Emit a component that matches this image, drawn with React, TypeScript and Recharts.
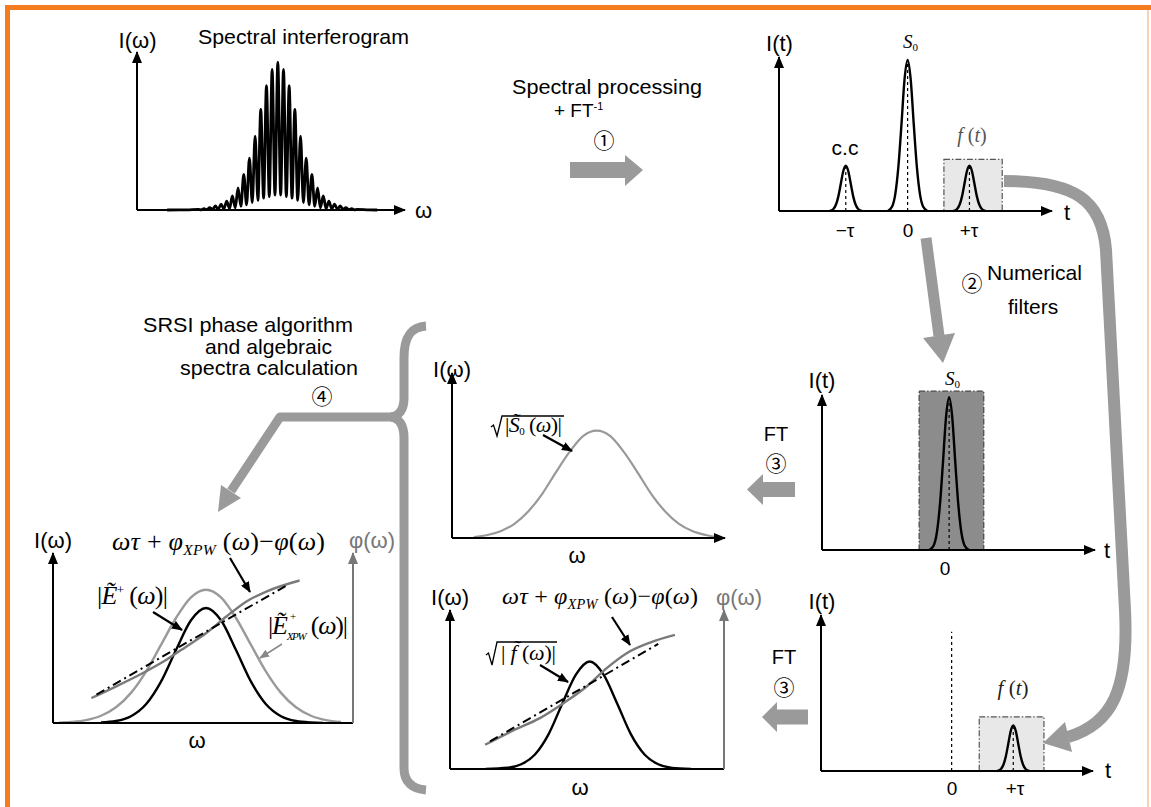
import React from 'react';
import { LineChart, Line, XAxis, YAxis, ReferenceLine, ReferenceArea } from 'recharts';

// ---------- values ----------
// (a) spectral interferogram: fringe index (peaks on integers, troughs on halves) vs intensity
const fringeW = [
  -19.5, -16, -14, -13.5, -13, -12.5, -12, -11.5, -11, -10.5, -10, -9.5, -9, -8.5, -8, -7.5, -7, -6.5, -6,
  -5.5, -5, -4.5, -4, -3.5, -3, -2.5, -2, -1.5, -1, -0.5, 0, 0.5, 1, 1.5, 2, 2.5, 3, 3.5, 4, 4.5, 5, 5.5,
  6, 6.5, 7, 7.5, 8, 8.5, 9, 9.5, 10, 10.5, 11, 11.5, 12, 12.5, 13, 13.5, 14, 16, 17.5,
];
const fringeI = [
  0, 0.1, 0.4, 0.15, 0.9, 0.2, 1.6, 0.3, 2.7, 0.5, 4, 0.7, 6, 1, 9.5, 1.5, 15, 2.5, 24,
  3.5, 35, 5, 50, 6.5, 68, 8, 84, 9, 95, 10, 100, 10, 95, 9, 84, 8, 68, 6.5, 50, 5, 35, 3.5,
  24, 2.5, 15, 1.5, 9.5, 1, 6, 0.7, 4, 0.5, 2.7, 0.3, 1.6, 0.2, 0.9, 0.15, 0.4, 0.1, 0,
];

// (b) temporal peaks after FT^-1 (t in units of tau)
const ccT = [-1.26, -1.2, -1.16, -1.12, -1.08, -1.04, -1, -0.96, -0.92, -0.88, -0.84, -0.8, -0.74];
const ccI = [0, 1.3, 4.1, 9.7, 18.2, 26.5, 30, 26.5, 18.2, 9.7, 4.1, 1.3, 0];
const s0T = [-0.32, -0.25, -0.2, -0.15, -0.1, -0.05, 0, 0.05, 0.1, 0.15, 0.2, 0.25, 0.32];
const s0I = [0, 3, 11, 29, 57, 87, 100, 87, 57, 29, 11, 3, 0];
const fT = [0.74, 0.8, 0.84, 0.88, 0.92, 0.96, 1, 1.04, 1.08, 1.12, 1.16, 1.2, 1.26];
const fI = [0, 1.3, 4.1, 9.7, 18.2, 26.5, 30, 26.5, 18.2, 9.7, 4.1, 1.3, 0];

// (c) sqrt|S0(w)|
const s0SpecW = [8, 13, 18, 23, 28, 33, 38, 43, 48, 53, 58, 63, 68, 73, 78, 83, 88, 93, 96];
const s0SpecI = [0.9, 2.8, 6.6, 13.5, 25, 41, 61, 80, 95, 100, 95, 80, 61, 41, 25, 13.5, 6.6, 2.8, 1.2];

// (d) sqrt|f(w)| and phases
const fSpecW = [13, 21, 26, 31, 36, 41, 46, 51, 56, 61, 66, 71, 76, 81, 88];
const fSpecI = [0.1, 1.1, 4.4, 13.5, 32.5, 61, 88, 100, 88, 61, 32.5, 13.5, 4.4, 1.1, 0.1];
const fPhaseW = [12.8, 23.1, 32.8, 41.4, 49.9, 57.2, 64.5, 73, 82.1];
const fPhaseV = [22.6, 35.9, 47.4, 61.3, 76.8, 93.9, 107.8, 117.7, 124.8];
const fLinW = [14.6, 45.3, 76];
const fLinV = [25.7, 71, 116.4];

// (e) final spectra |E+(w)|, |E+_XPW(w)| and phases
const gBlackW = [16, 21, 26, 31, 36, 41, 46, 51, 56, 61, 66, 71, 76, 81, 86, 90];
const gBlackI = [0.4, 1.7, 5.9, 16.3, 36, 63.5, 89.3, 100, 89.3, 63.5, 36, 16.3, 5.9, 1.7, 0.4, 0.1];
const gGreyW = [2, 6, 11, 16, 21, 26, 31, 36, 41, 46, 51, 56, 61, 66, 71, 76, 81, 86, 91, 96];
const gGreyI = [0.3, 0.9, 2.5, 6.3, 13.7, 26.2, 44.7, 67.9, 91.3, 109.2, 115.9, 109.2, 91.3, 67.9, 44.7, 26.2, 13.7, 6.3, 2.5, 0.9];
const gPhaseW = [12.8, 21.1, 30, 37.8, 44.5, 51.1, 57.8, 64.5, 71.1, 82.2];
const gPhaseV = [21.7, 31.9, 43.5, 55, 66.6, 78.2, 92.6, 105.7, 114.3, 123.9];
const gLinW = [14.5, 46, 77.8];
const gLinV = [24.6, 72, 119.4];

const zip = (xs: number[], ys: number[]) => xs.map((x, i) => ({ x, y: ys[i] }));

const SANS = '"Liberation Sans", Arial, sans-serif';
const SERIF = '"Liberation Serif", "Times New Roman", serif';
const CIRC = '"Noto Sans CJK JP", "Noto Sans CJK SC", "DejaVu Sans", sans-serif';
const ARROW_GREY = '#9a9a9a';
const PHASE_GREY = '#7a7a7a';
const AXIS_GREY = '#777';

interface Box { left: number; top: number; right: number; bottom: number }

const PAD = 24;

interface PanelProps {
  box: Box;
  xDomain: [number, number];
  yDomain: [number, number];
  rightAxis?: boolean;
  children?: React.ReactNode;
}

// one small plot; plot area is exactly `box` in page pixels
const Panel: React.FC<PanelProps> = ({ box, xDomain, yDomain, rightAxis = false, children }) => {
  const w = box.right - box.left + 2 * PAD;
  const h = box.bottom - box.top + 2 * PAD;
  return (
    <div style={{ position: 'absolute', left: box.left - PAD, top: box.top - PAD, width: w, height: h }}>
      <LineChart
        width={w}
        height={h}
        margin={{ top: PAD, bottom: PAD - 1, left: PAD - 1, right: rightAxis ? PAD - 1 : PAD }}
      >
        <XAxis
          type="number"
          dataKey="x"
          domain={xDomain}
          height={1}
          tick={false}
          tickLine={false}
          axisLine={{ stroke: '#000', strokeWidth: 2, markerEnd: rightAxis ? undefined : 'url(#axHead)' }}
        />
        <YAxis
          type="number"
          domain={yDomain}
          width={1}
          tick={false}
          tickLine={false}
          axisLine={{ stroke: '#000', strokeWidth: 2, markerStart: 'url(#axHead)' }}
        />
        {rightAxis && (
          <YAxis
            yAxisId="r"
            orientation="right"
            type="number"
            domain={yDomain}
            width={1}
            tick={false}
            tickLine={false}
            axisLine={{ stroke: AXIS_GREY, strokeWidth: 2, markerStart: 'url(#axHeadGrey)' }}
          />
        )}
        {children}
      </LineChart>
    </div>
  );
};

const dashV = (t: number, top: number) => (
  <ReferenceLine
    segment={[{ x: t, y: 0 }, { x: t, y: top }]}
    stroke="#000"
    strokeWidth={1.2}
    strokeDasharray="3 3"
    ifOverflow="visible"
  />
);

const Sans: React.FC<{ x: number; y: number; size?: number; anchor?: 'start' | 'middle' | 'end'; fill?: string; len?: number; children: React.ReactNode }> = ({ x, y, size = 21, anchor = 'start', fill = '#000', len, children }) => (
  <text x={x} y={y} fontFamily={SANS} fontSize={size} textAnchor={anchor} fill={fill} textLength={len} lengthAdjust={len ? 'spacingAndGlyphs' : undefined}>
    {children}
  </text>
);

const Circ: React.FC<{ x: number; y: number; children: React.ReactNode }> = ({ x, y, children }) => (
  <text x={x} y={y} fontFamily={CIRC} fontSize={21} textAnchor="middle" fill="#000">{children}</text>
);

// omega*tau + phi_XPW(omega) - phi(omega)
const PhaseLabel: React.FC<{ x: number; y: number; size: number; len: number }> = ({ x, y, size, len }) => (
  <text x={x} y={y} fontFamily={SERIF} fontSize={size} fill="#000" textLength={len} lengthAdjust="spacing">
    <tspan fontStyle="italic">ωτ</tspan>
    <tspan>{' + '}</tspan>
    <tspan fontStyle="italic">φ</tspan>
    <tspan fontStyle="italic" fontSize={size * 0.6} dy={size * 0.2}>XPW</tspan>
    <tspan dy={-size * 0.2}>{' ('}</tspan>
    <tspan fontStyle="italic">ω</tspan>
    <tspan>{')−'}</tspan>
    <tspan fontStyle="italic">φ</tspan>
    <tspan>(</tspan>
    <tspan fontStyle="italic">ω</tspan>
    <tspan>)</tspan>
  </text>
);

const Overlay: React.FC = () => (
  <svg width={1151} height={807} style={{ position: 'absolute', left: 0, top: 0, pointerEvents: 'none' }}>
    <defs>
      <marker id="axHead" markerUnits="userSpaceOnUse" markerWidth={12} markerHeight={10} viewBox="0 0 12 10" refX={11} refY={5} orient="auto-start-reverse">
        <path d="M0,0 L12,5 L0,10 z" fill="#000" />
      </marker>
      <marker id="axHeadGrey" markerUnits="userSpaceOnUse" markerWidth={12} markerHeight={10} viewBox="0 0 12 10" refX={11} refY={5} orient="auto-start-reverse">
        <path d="M0,0 L12,5 L0,10 z" fill={AXIS_GREY} />
      </marker>
      <marker id="annHead" markerUnits="userSpaceOnUse" markerWidth={11} markerHeight={9} viewBox="0 0 11 9" refX={10} refY={4.5} orient="auto">
        <path d="M0,0 L11,4.5 L0,9 z" fill="#000" />
      </marker>
      <marker id="annHeadGrey" markerUnits="userSpaceOnUse" markerWidth={10} markerHeight={8} viewBox="0 0 10 8" refX={9} refY={4} orient="auto">
        <path d="M0,0 L10,4 L0,8 z" fill="#888" />
      </marker>
    </defs>

    {/* frame */}
    <line x1={5} y1={7.5} x2={1151} y2={7.5} stroke="#f47b20" strokeWidth={5} />
    <line x1={7.5} y1={5} x2={7.5} y2={807} stroke="#f47b20" strokeWidth={5} />
    <line x1={1148} y1={10} x2={1148} y2={807} stroke="#f9d2b4" strokeWidth={2} />

    {/* step 1 arrow */}
    <polygon points="570,162 625,162 625,155 643,170 625,186 625,178 570,178" fill={ARROW_GREY} />
    {/* step 2 arrow */}
    <line x1={926} y1={238} x2={939} y2={336} stroke={ARROW_GREY} strokeWidth={11} />
    <polygon points="943,363 955,333 923,338" fill={ARROW_GREY} />
    {/* curved arrow f(t) -> filtered f(t) */}
    <path d="M 1004,181 C 1075,181 1102,200 1106,250 L 1125,610 C 1129,690 1112,724 1068,737" fill="none" stroke={ARROW_GREY} strokeWidth={12} />
    <polygon points="1043,743 1065,722 1072,752" fill={ARROW_GREY} />
    {/* FT 3 arrows */}
    <polygon points="795,482 763,482 763,474 747,489.5 763,505 763,497 795,497" fill={ARROW_GREY} />
    <polygon points="808,709.5 777,709.5 777,702 762,717 777,732 777,724.5 808,724.5" fill={ARROW_GREY} />
    {/* brace + step 4 arrow */}
    <path d="M 426,326 C 410,327 404,338 404,358 L 404,398 C 404,410 399,416 391,417" fill="none" stroke={ARROW_GREY} strokeWidth={9} />
    <path d="M 391,417 C 399,418 404,425 404,438 L 404,768 C 404,782 412,789 426,790" fill="none" stroke={ARROW_GREY} strokeWidth={9} />
    <path d="M 395,417 L 280,417 L 231,491" fill="none" stroke={ARROW_GREY} strokeWidth={9} strokeLinejoin="round" />
    <polygon points="218,512 241,498 221,485" fill={ARROW_GREY} />

    {/* annotation arrows */}
    <line x1={153} y1={612} x2={182} y2={630} stroke="#000" strokeWidth={2.2} markerEnd="url(#annHead)" />
    <line x1={230} y1={558} x2={250} y2={592} stroke="#000" strokeWidth={2.2} markerEnd="url(#annHead)" />
    <line x1={282} y1={644} x2={260} y2={658} stroke="#888" strokeWidth={1.5} markerEnd="url(#annHeadGrey)" />
    <line x1={543} y1={435} x2={572} y2={451} stroke="#000" strokeWidth={2.2} markerEnd="url(#annHead)" />
    <line x1={612} y1={617} x2={630} y2={645} stroke="#000" strokeWidth={2.2} markerEnd="url(#annHead)" />
    <line x1={540} y1={665} x2={568} y2={682} stroke="#000" strokeWidth={2.2} markerEnd="url(#annHead)" />

    {/* top-left interferogram */}
    <Sans x={198} y={43.5} len={211}>Spectral interferogram</Sans>
    <Sans x={137.5} y={48} size={22} anchor="middle">I(ω)</Sans>
    <Sans x={415} y={218} size={22}>ω</Sans>

    {/* step 1 */}
    <Sans x={512} y={94} len={190}>Spectral processing</Sans>
    <text x={554} y={117} fontFamily={SANS} fontSize={19} fill="#000">
      + FT<tspan fontSize={11} dy={-7}>-1</tspan>
    </text>
    <Circ x={604} y={148}>①</Circ>

    {/* top-right I(t) */}
    <Sans x={779.5} y={51} size={22} anchor="middle">I(t)</Sans>
    <text x={903} y={48} fontFamily={SERIF} fontSize={19} fill="#000">
      <tspan fontStyle="italic">S</tspan><tspan fontSize={11} dy={3}>0</tspan>
    </text>
    <Sans x={845} y={155} anchor="middle">c.c</Sans>
    <text x={972} y={142} fontFamily={SERIF} fontSize={20} fill="#555" textAnchor="middle">
      <tspan fontStyle="italic">f</tspan> (<tspan fontStyle="italic">t</tspan>)
    </text>
    <Sans x={1067} y={220} size={22} anchor="middle">t</Sans>
    <Sans x={845} y={237} size={19} anchor="middle">−τ</Sans>
    <Sans x={908} y={237} size={19} anchor="middle">0</Sans>
    <Sans x={969} y={237} size={19} anchor="middle">+τ</Sans>

    {/* step 2 */}
    <Circ x={972} y={291}>②</Circ>
    <Sans x={987} y={280} len={95}>Numerical</Sans>
    <Sans x={1008} y={314}>filters</Sans>

    {/* middle-right filtered S0 */}
    <Sans x={822} y={388} size={22} anchor="middle">I(t)</Sans>
    <text x={945} y={385} fontFamily={SERIF} fontSize={19} fill="#000">
      <tspan fontStyle="italic">S</tspan><tspan fontSize={11} dy={3}>0</tspan>
    </text>
    <Sans x={1107} y={558} size={22} anchor="middle">t</Sans>
    <Sans x={945} y={575} size={19} anchor="middle">0</Sans>

    {/* bottom-right filtered f(t) */}
    <Sans x={822} y={609} size={22} anchor="middle">I(t)</Sans>
    <text x={1013} y={695} fontFamily={SERIF} fontSize={21} fill="#222" textAnchor="middle">
      <tspan fontStyle="italic">f</tspan> (<tspan fontStyle="italic">t</tspan>)
    </text>
    <Sans x={1108} y={778} size={22} anchor="middle">t</Sans>
    <Sans x={952} y={795} size={19} anchor="middle">0</Sans>
    <Sans x={1015} y={795} size={19} anchor="middle">+τ</Sans>

    {/* FT 3 labels */}
    <Sans x={776} y={441} size={20} anchor="middle">FT</Sans>
    <Circ x={776} y={471}>③</Circ>
    <Sans x={784} y={664} size={20} anchor="middle">FT</Sans>
    <Circ x={784} y={695}>③</Circ>

    {/* middle: sqrt|S0(w)| */}
    <Sans x={452} y={377} size={22} anchor="middle">I(ω)</Sans>
    <Sans x={577} y={563} size={22} anchor="middle">ω</Sans>
    <polyline points="491,427 493.5,425 497,436 502,416 564,416" fill="none" stroke="#000" strokeWidth={1.3} />
    <text x={505} y={432} fontFamily={SERIF} fontSize={22} fill="#000" textLength={57} lengthAdjust="spacing">
      |<tspan fontStyle="italic">S̃</tspan><tspan fontSize={11} dy={3}>0</tspan><tspan dy={-3}> (</tspan><tspan fontStyle="italic">ω</tspan>)|
    </text>

    {/* bottom middle: sqrt|f(w)| */}
    <Sans x={450} y={605} size={22} anchor="middle">I(ω)</Sans>
    <Sans x={739} y={605} size={22} anchor="middle" fill={AXIS_GREY}>φ(ω)</Sans>
    <Sans x={580} y={795} size={22} anchor="middle">ω</Sans>
    <PhaseLabel x={502} y={604} size={24} len={196} />
    <polyline points="486,655 488.5,653 492,665 497,642 557,642" fill="none" stroke="#000" strokeWidth={1.3} />
    <text x={501} y={660} fontFamily={SERIF} fontSize={22} fill="#000" textLength={55} lengthAdjust="spacing">
      |<tspan fontStyle="italic"> f̃ </tspan>(<tspan fontStyle="italic">ω</tspan>)|
    </text>

    {/* step 4 */}
    <Sans x={143} y={332} len={210}>SRSI phase algorithm</Sans>
    <Sans x={205} y={354} len={127}>and algebraic</Sans>
    <Sans x={180} y={375} len={178}>spectra calculation</Sans>
    <Circ x={322} y={404}>④</Circ>

    {/* bottom-left result */}
    <Sans x={53} y={548} size={22} anchor="middle">I(ω)</Sans>
    <Sans x={372} y={548} size={22} anchor="middle" fill={AXIS_GREY}>φ(ω)</Sans>
    <Sans x={197} y={748} size={22} anchor="middle">ω</Sans>
    <PhaseLabel x={112} y={550} size={26} len={213} />
    <text x={97} y={604} fontFamily={SERIF} fontSize={26} fill="#000" textLength={71} lengthAdjust="spacing">
      |<tspan fontStyle="italic">Ẽ</tspan><tspan fontSize={13} dy={-10}>+</tspan><tspan dy={10}> (</tspan><tspan fontStyle="italic">ω</tspan>)|
    </text>
    <text x={268} y={634} fontFamily={SERIF} fontSize={26} fill="#000" textLength={80} lengthAdjust="spacing">
      |<tspan fontStyle="italic">Ẽ</tspan><tspan fontStyle="italic" fontSize={11} dy={6}>XPW</tspan><tspan dy={-6}> (</tspan><tspan fontStyle="italic">ω</tspan>)|
    </text>
    <text x={290} y={620} fontFamily={SERIF} fontSize={11} fill="#000">+</text>
  </svg>
);

export default function App() {
  const boxFill = '#e8e8e8';
  const dashDot = '6 2 1.5 2';
  return (
    <div style={{ position: 'absolute', left: 0, top: 0, width: 1151, height: 807, background: '#fff', overflow: 'hidden' }}>
      {/* spectral interferogram */}
      <Panel box={{ left: 137, top: 52, right: 405, bottom: 210 }} xDomain={[-24.8, 22.4]} yDomain={[0, 106.8]}>
        <Line data={zip(fringeW, fringeI)} dataKey="y" type="monotone" stroke="#000" strokeWidth={2.8} dot={false} isAnimationActive={false} />
      </Panel>

      {/* I(t) after FT^-1 */}
      <Panel box={{ left: 779, top: 57, right: 1052, bottom: 211 }} xDomain={[-2.08, 2.335]} yDomain={[0, 102]}>
        <ReferenceArea x1={0.587} x2={1.53} y1={0} y2={34.2} fill={boxFill} fillOpacity={1} stroke="#555" strokeWidth={1.2} strokeDasharray={dashDot} ifOverflow="visible" />
        {dashV(-1, 30)}
        {dashV(0, 100)}
        {dashV(1, 30)}
        <Line data={zip(ccT, ccI)} dataKey="y" type="monotone" stroke="#000" strokeWidth={2.4} dot={false} isAnimationActive={false} />
        <Line data={zip(s0T, s0I)} dataKey="y" type="monotone" stroke="#000" strokeWidth={2.4} dot={false} isAnimationActive={false} />
        <Line data={zip(fT, fI)} dataKey="y" type="monotone" stroke="#000" strokeWidth={2.4} dot={false} isAnimationActive={false} />
      </Panel>

      {/* filtered S0 */}
      <Panel box={{ left: 822, top: 395, right: 1095, bottom: 550 }} xDomain={[-2.055, 2.358]} yDomain={[0, 101.5]}>
        <ReferenceArea x1={-0.485} x2={0.56} y1={0} y2={104} fill="#8c8c8c" fillOpacity={1} stroke="#444" strokeWidth={1.2} strokeDasharray={dashDot} ifOverflow="visible" />
        {dashV(0, 100)}
        <Line data={zip(s0T, s0I)} dataKey="y" type="monotone" stroke="#000" strokeWidth={2.4} dot={false} isAnimationActive={false} />
      </Panel>

      {/* filtered f(t) */}
      <Panel box={{ left: 821, top: 615, right: 1093, bottom: 771 }} xDomain={[-2.12, 2.294]} yDomain={[0, 103]}>
        <ReferenceArea x1={0.448} x2={1.498} y1={0} y2={35.8} fill={boxFill} fillOpacity={1} stroke="#555" strokeWidth={1.2} strokeDasharray={dashDot} ifOverflow="visible" />
        {dashV(0, 92)}
        {dashV(1, 30)}
        <Line data={zip(fT, fI)} dataKey="y" type="monotone" stroke="#000" strokeWidth={2.4} dot={false} isAnimationActive={false} />
      </Panel>

      {/* sqrt|S0(w)| */}
      <Panel box={{ left: 452, top: 373, right: 725, bottom: 538 }} xDomain={[0, 100]} yDomain={[0, 153.8]}>
        <Line data={zip(s0SpecW, s0SpecI)} dataKey="y" type="monotone" stroke="#999" strokeWidth={2.2} dot={false} isAnimationActive={false} />
      </Panel>

      {/* sqrt|f(w)| with phase */}
      <Panel box={{ left: 450, top: 610, right: 724, bottom: 769 }} xDomain={[0, 100]} yDomain={[0, 148]} rightAxis>
        <Line data={zip(fSpecW, fSpecI)} dataKey="y" type="monotone" stroke="#000" strokeWidth={2.4} dot={false} isAnimationActive={false} />
        <Line yAxisId="r" data={zip(fPhaseW, fPhaseV)} dataKey="y" type="monotone" stroke={PHASE_GREY} strokeWidth={2.4} dot={false} isAnimationActive={false} />
        <Line yAxisId="r" data={zip(fLinW, fLinV)} dataKey="y" type="linear" stroke="#000" strokeWidth={2} strokeDasharray="9 4 2 4" dot={false} isAnimationActive={false} />
      </Panel>

      {/* final spectra */}
      <Panel box={{ left: 53, top: 553, right: 353, bottom: 723 }} xDomain={[0, 100]} yDomain={[0, 147.8]} rightAxis>
        <Line data={zip(gGreyW, gGreyI)} dataKey="y" type="monotone" stroke="#9a9a9a" strokeWidth={2.4} dot={false} isAnimationActive={false} />
        <Line data={zip(gBlackW, gBlackI)} dataKey="y" type="monotone" stroke="#000" strokeWidth={2.4} dot={false} isAnimationActive={false} />
        <Line yAxisId="r" data={zip(gPhaseW, gPhaseV)} dataKey="y" type="monotone" stroke={PHASE_GREY} strokeWidth={2.4} dot={false} isAnimationActive={false} />
        <Line yAxisId="r" data={zip(gLinW, gLinV)} dataKey="y" type="linear" stroke="#000" strokeWidth={2} strokeDasharray="9 4 2 4" dot={false} isAnimationActive={false} />
      </Panel>

      <Overlay />
    </div>
  );
}
